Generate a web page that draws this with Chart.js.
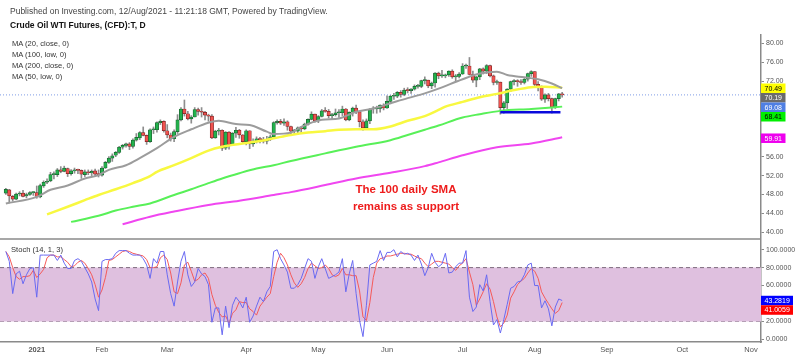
<!DOCTYPE html>
<html><head><meta charset="utf-8">
<script src="https://cdn.jsdelivr.net/npm/chart.js@4.4.0/dist/chart.umd.min.js"></script>
<style>
html,body{margin:0;padding:0;background:#fff;width:800px;height:357px;overflow:hidden;font-family:"Liberation Sans",Arial,sans-serif;}
#wrap{position:relative;width:800px;height:357px;}
canvas{position:absolute;left:0;}
.t{position:absolute;white-space:nowrap;color:#333;line-height:11px;}
.note{position:absolute;left:306px;top:180.5px;width:200px;text-align:center;color:#ee1c1c;font-weight:bold;font-size:11.5px;line-height:17px;}
</style></head><body>
<div id="wrap">
<canvas id="main" width="800" height="240" style="top:0;width:800px;height:240px"></canvas>
<canvas id="stoch" width="800" height="117" style="top:240px;width:800px;height:117px"></canvas>
<div class="t" style="left:10px;top:6px;font-size:8.5px;color:#444">Published on Investing.com, 12/Aug/2021 - 11:21:18 GMT, Powered by TradingView.</div>
<div class="t" style="left:10px;top:20px;font-size:8.5px;font-weight:bold;color:#111">Crude Oil WTI Futures, (CFD):T, D</div>
<div class="t" style="left:12px;top:38px;font-size:7.6px">MA (20, close, 0)</div>
<div class="t" style="left:12px;top:49px;font-size:7.6px">MA (100, low, 0)</div>
<div class="t" style="left:12px;top:60px;font-size:7.6px">MA (200, close, 0)</div>
<div class="t" style="left:12px;top:71px;font-size:7.6px">MA (50, low, 0)</div>
<div class="t" style="left:11px;top:244px;font-size:7.6px">Stoch (14, 1, 3)</div>
<div class="note">The 100 daily SMA<br>remains as support</div>
</div>
<script>
// ---- data (trading-day index: 0 = first session of 2021) ----
const firstDay = -9;
const open = [48.3,49.0,47.6,47.0,48.1,48.3,47.7,48.0,48.4,
48.4,47.5,49.8,50.6,50.9,52.2,52.2,53.2,52.9,53.5,
52.4,53.0,53.3,53.1,52.2,52.8,52.6,53.0,52.3,
52.1,53.6,54.8,55.7,56.3,56.9,58.0,58.4,58.7,58.2,
59.5,60.0,61.1,60.5,59.2,61.7,61.7,63.2,63.5,
61.5,60.6,59.8,61.3,63.8,66.1,65.1,64.0,64.4,66.0,65.6,65.4,64.8,
64.6,60.0,61.4,61.6,57.8,61.2,58.6,61.0,61.6,60.6,
59.2,61.5,58.7,59.3,59.8,59.6,59.3,59.7,60.2,63.2,
63.5,63.1,63.4,62.4,61.4,61.4,62.1,61.9,62.9,63.9,65.0,
63.6,64.5,65.7,65.6,64.7,64.9,65.3,65.3,66.1,63.8,
65.4,66.3,65.5,63.4,62.1,63.6,66.1,66.1,66.2,66.9,
66.3,67.7,68.8,68.8,69.6,69.2,70.1,70.0,70.3,70.9,70.9,72.1,
72.2,71.0,71.6,73.7,73.1,73.1,73.3,74.1,72.9,73.0,
73.5,75.2,75.2,73.4,72.2,72.9,74.6,74.1,75.3,73.1,71.7,
71.8,66.4,67.4,70.3,71.9,72.1,71.9,71.7,72.4,73.6,
74.0,71.3,70.6,68.2,69.1,68.3,66.5,68.3,69.3];
const high = [49.3,49.1,47.8,48.3,48.6,48.9,48.3,48.6,48.6,
49.8,50.2,50.9,51.3,52.7,52.8,53.5,53.9,54.0,53.6,
53.3,53.6,53.4,53.2,53.2,53.2,53.2,53.4,53.2,
53.9,55.0,56.0,56.6,57.1,58.2,58.6,58.9,59.0,59.8,
60.9,61.3,62.3,60.6,61.9,62.3,63.4,63.8,63.6,
62.8,61.0,61.7,64.9,66.4,68.0,65.6,64.7,66.4,66.3,66.4,65.6,65.0,
64.9,61.6,62.0,61.7,61.3,61.3,61.1,62.2,61.8,60.7,
61.7,61.5,59.8,60.2,60.1,60.1,60.3,60.6,63.4,63.8,
63.9,64.0,63.6,62.5,61.8,62.3,62.3,63.1,64.0,65.5,65.0,
64.7,66.0,66.4,66.0,65.2,66.1,66.0,66.7,66.2,65.5,
66.5,66.9,65.6,63.8,64.0,66.2,66.6,66.7,67.0,67.2,
68.9,69.0,69.4,69.8,70.0,70.5,70.6,70.4,71.2,71.3,72.2,72.9,
72.2,71.8,73.8,73.9,74.3,73.5,74.2,74.4,73.4,73.8,
75.7,75.6,77.0,74.1,73.0,74.7,74.8,75.5,75.4,73.3,72.2,
71.8,67.7,70.4,72.0,72.3,72.3,72.3,72.8,73.7,74.2,
74.0,71.9,71.0,69.3,69.4,68.4,68.4,69.4,69.6];
const low = [48.0,46.2,46.6,46.9,47.7,47.5,47.3,47.8,47.8,
47.2,47.3,49.5,50.3,50.7,51.3,51.8,52.6,52.8,51.8,
52.1,52.5,52.4,51.4,51.8,52.2,52.0,51.8,51.7,
51.9,53.5,54.6,55.0,56.0,56.7,57.6,58.0,57.5,57.8,
59.3,59.6,60.4,58.6,59.0,60.9,61.2,62.8,61.2,
60.0,59.3,59.2,60.9,63.6,64.6,63.8,63.1,64.4,64.8,64.4,63.8,63.5,
59.8,59.9,60.6,57.3,57.5,57.6,58.5,60.1,59.9,58.8,
58.5,57.7,58.2,58.9,58.9,58.9,58.7,59.4,60.1,62.9,
62.8,62.6,61.6,60.8,60.8,60.7,61.1,61.7,62.7,63.8,63.3,
63.2,64.4,65.4,64.2,64.0,64.6,64.3,64.7,63.6,63.6,
64.6,65.1,62.3,61.6,61.8,63.0,65.2,65.2,65.4,65.9,
66.2,67.2,68.1,68.5,68.6,68.9,69.5,69.4,70.1,70.5,70.6,71.4,
70.6,70.4,70.7,72.5,72.8,72.7,73.0,72.6,71.9,72.7,
73.4,74.7,73.3,71.7,70.8,72.3,73.5,73.6,72.9,71.2,71.3,
65.0,65.2,66.2,69.8,71.2,70.9,71.3,71.4,72.0,73.0,
71.0,69.9,67.9,67.5,67.8,65.2,66.2,67.8,68.6];
const close = [49.1,47.7,47.0,48.1,48.2,47.6,48.0,48.4,48.5,
47.6,49.9,50.6,50.8,52.2,52.3,53.2,52.9,53.6,52.4,
53.0,53.2,53.1,52.3,52.8,52.6,52.9,52.3,52.2,
53.6,54.8,55.7,56.2,56.9,58.0,58.4,58.7,58.2,59.5,
60.1,61.1,60.5,59.2,61.7,61.7,63.2,63.5,61.5,
60.6,59.8,61.3,63.8,66.1,65.1,64.0,64.4,66.0,65.6,65.4,64.8,64.6,
60.0,61.4,61.6,57.8,61.2,58.6,61.0,61.6,60.6,59.2,
61.5,58.7,59.3,59.8,59.6,59.3,59.7,60.2,63.2,63.5,
63.1,63.4,62.4,61.4,61.4,62.1,61.9,62.9,63.9,65.0,63.6,
64.5,65.7,65.6,64.7,64.9,65.3,65.3,66.1,63.8,65.4,
66.3,65.5,63.4,62.1,63.6,66.1,66.1,66.2,66.9,66.3,
67.7,68.8,68.8,69.6,69.2,70.1,70.0,70.3,70.9,70.9,72.1,72.2,
71.0,71.6,73.7,73.1,73.1,73.3,74.1,72.9,73.0,73.5,
75.2,75.2,73.4,72.2,72.9,74.6,74.1,75.3,73.1,71.7,71.8,
66.4,67.4,70.3,71.9,72.1,71.9,71.7,72.4,73.6,74.0,
71.3,70.6,68.2,69.1,68.3,66.5,68.3,69.3,69.1];

// moving averages (day index / value)
const ma20Days  = [-9,0,4,9,14,18,21,26,30,35,40,45,50,53,58,62,67,69,74,77,83,88,93,98,103,108,113,117,124,129,134,137,142,146,150,153];
const ma20Vals  = [46.1,47.5,49.0,49.9,51.4,52.1,53.2,54.2,55.7,57.8,60.2,61.8,63.2,63.6,62.9,62.7,61.3,60.8,61.1,62.3,63.8,64.1,65.5,66.2,67.3,68.4,69.4,70.4,72.4,73.6,74.0,73.3,72.8,72.4,71.5,70.5];
const ma50Days  = [3,9,14,18,23,28,33,35,40,45,50,54,59,64,69,74,79,84,88,93,98,103,108,113,117,119,124,129,134,139,144,148,153];
const ma50Vals  = [43.8,45.4,46.8,47.9,49.1,50.4,51.9,52.8,54.2,55.7,57.3,58.1,58.7,59.2,59.9,60.6,61.1,61.4,61.7,61.8,61.8,62.4,63.6,64.6,65.9,66.6,67.6,68.6,69.3,70.1,70.7,70.8,70.6];
const ma100Days = [10,18,23,28,33,40,45,50,54,59,64,69,74,84,93,103,108,113,117,124,129,135,144,153];
const ma100Vals = [42.2,43.5,44.6,45.4,46.1,47.9,49.1,50.4,51.4,52.5,53.5,54.2,55.1,56.7,58.1,59.5,60.6,61.7,62.6,64.3,65.0,65.7,66.1,66.6];
const ma200Days = [25,33,40,50,59,69,74,84,93,103,113,117,124,134,144,153];
const ma200Vals = [41.7,43.3,44.4,45.8,46.7,47.9,48.5,50.0,51.4,52.6,54.0,54.8,56.3,58.0,58.8,60.1];

const lastPrice = 69.08;
const supportLevel = 65.4;
const supportDays = [135, 152.5];

// stochastic (14,1,3): %K and %D, one value per session
const stochK = [98,87,51,73,76,62,72,79,80,
47,94,94,94,94,94,88,94,85,79,
79,88,90,87,80,73,64,45,32,
87,89,89,90,96,99,99,99,96,94,
94,94,90,83,68,90,85,98,98,
72,51,37,64,87,98,72,59,64,79,73,70,61,
19,35,35,5,37,13,38,47,42,35,
47,19,26,37,47,42,53,59,98,100,
90,83,75,57,57,61,68,79,90,87,68,
81,90,79,68,70,72,75,90,53,73,
88,51,21,3,38,83,85,87,99,88,
97,97,100,92,98,95,96,94,88,94,84,71,
80,96,86,81,84,96,74,75,81,85,
85,99,47,31,36,61,54,72,42,16,22,
7,22,39,57,59,64,65,72,83,85,
60,60,35,43,34,15,36,45,43.2819];
const stochD = [98,92,80,70,67,70,70,71,77,
69,73,78,91,94,94,92,92,89,86,
81,82,86,88,85,79,72,61,47,
55,69,88,89,92,95,98,99,98,96,
95,94,93,89,80,80,81,91,94,
89,74,53,51,63,83,86,76,65,67,72,74,68,
50,38,30,25,26,18,29,33,42,41,
41,34,31,27,37,42,47,51,70,86,
96,91,83,72,63,58,62,69,79,85,82,
79,80,83,79,72,70,72,79,72,72,
71,71,54,25,21,41,69,85,90,91,
93,93,94,95,96,96,95,95,93,91,90,85,
81,84,87,87,86,85,84,80,77,82,
85,90,75,61,38,45,53,62,56,42,25,
14,18,27,46,53,61,65,68,74,79,
76,68,53,46,40,34,29,32,41.0059];

const monthDays   = [0,19,38,61,82,102,124,145,166,188,208];
const monthLabels = ['2021','Feb','Mar','Apr','May','Jun','Jul','Aug','Sep','Oct','Nov'];

const priceTicks = [40,44,48,52,56,60,64,68,72,76,80];
const stochTicks = [0,20,40,60,80,100];
const mainTags  = [{v:70.49,bg:'#ffff00',fg:'#000'},{v:70.19,bg:'#6b6b6b',fg:'#fff'},{v:69.08,bg:'#4f7fe3',fg:'#fff'},{v:68.41,bg:'#00ee00',fg:'#000'},{v:59.91,bg:'#ee00ee',fg:'#fff'}];
const stochTags = [{v:43.2819,bg:'#0000ff',fg:'#fff'},{v:41.0059,bg:'#ff0000',fg:'#fff'}];

// ---- view ----
const X_MIN = -10.7, X_MAX = 210.9;
const days = close.map((_, i) => firstDay + i);
const AXIS = '#8a8a8a';
const FONT = '"Liberation Sans", Arial, sans-serif';

function tagPlugin(tags, dec, w) {
  return { id: 'tags', afterDraw(chart) {
    const ys = chart.scales.y, ctx = chart.ctx, x0 = chart.chartArea.right, h = 9.5;
    let prev = -1e9;
    ctx.save();
    ctx.font = '7px ' + FONT; ctx.textBaseline = 'middle';
    tags.forEach(t => {
      let y = Math.max(ys.getPixelForValue(t.v), prev + h); prev = y;
      ctx.fillStyle = t.bg; ctx.fillRect(x0, y - h/2, w, h);
      ctx.fillStyle = t.fg; ctx.fillText(t.v.toFixed(dec), x0 + 3.5, y + 0.5);
    });
    ctx.restore();
  }};
}
const sepPlugin = { id: 'sep', afterDraw(chart) {
  const ctx = chart.ctx, a = chart.chartArea;
  ctx.save(); ctx.strokeStyle = AXIS; ctx.lineWidth = 1.5;
  ctx.beginPath(); ctx.moveTo(0, a.bottom); ctx.lineTo(a.right, a.bottom); ctx.stroke(); ctx.restore();
}};

function yAxis(min, max, ticks, dec) {
  return {
    type: 'linear', position: 'right', min, max,
    afterBuildTicks: s => { s.ticks = ticks.map(v => ({ value: v })); },
    afterFit: s => { s.width = 39; s.paddingTop = 0; s.paddingBottom = 0; },
    grid: { drawOnChartArea: false, drawTicks: true, tickLength: 3, color: AXIS },
    border: { display: true, color: AXIS, width: 1.5 },
    ticks: { callback: v => Number(v).toFixed(dec), font: { size: 7, family: FONT }, color: '#555', padding: 2 }
  };
}

const up = '#22b24c', upB = '#1b5e2e', dn = '#f0524f', dnB = '#7d2323';
const maLine = (d, v, color, w, order) => ({
  type: 'line', data: d.map((x, i) => ({ x, y: v[i] })), borderColor: color, borderWidth: w,
  pointRadius: 0, cubicInterpolationMode: 'monotone', order
});

new Chart(document.getElementById('main'), {
  type: 'bar',
  data: { datasets: [
    { type: 'bar', data: days.map((d, i) => ({ x: d, y: [low[i], high[i]] })), backgroundColor: '#8d8d8d',
      barThickness: 1, grouped: false, order: 20 },
    { type: 'bar', data: days.map((d, i) => ({ x: d, y: [open[i], close[i]] })),
      backgroundColor: days.map((d, i) => close[i] >= open[i] ? up : dn),
      borderColor: days.map((d, i) => close[i] >= open[i] ? upB : dnB),
      borderWidth: 0.7, borderSkipped: false, barThickness: 3.4, minBarLength: 1, grouped: false, order: 19 },
    { type: 'line', data: [{ x: X_MIN, y: lastPrice }, { x: X_MAX, y: lastPrice }], borderColor: '#7f9ce6',
      borderWidth: 1, borderDash: [1, 2], pointRadius: 0, order: 30 },
    maLine(ma200Days, ma200Vals, '#f046f0', 2, 5),
    maLine(ma100Days, ma100Vals, '#58f058', 2, 4),
    maLine(ma50Days, ma50Vals, '#f8f840', 2.5, 3),
    maLine(ma20Days, ma20Vals, '#9c9c9c', 2, 2),
    { type: 'line', data: supportDays.map(x => ({ x, y: supportLevel })), borderColor: '#0a0adc', borderWidth: 2.5,
      pointRadius: 0, order: 1 }
  ]},
  options: {
    responsive: false, animation: false, events: [],
    layout: { padding: { top: 35, bottom: 1, left: 0, right: 0 } },
    plugins: { legend: { display: false }, tooltip: { enabled: false } },
    scales: {
      x: { type: 'linear', min: X_MIN, max: X_MAX, offset: false, display: false },
      y: yAxis(38.58, 81.76, priceTicks, 2)
    }
  },
  plugins: [sepPlugin, tagPlugin(mainTags, 2, 24.5)]
});

new Chart(document.getElementById('stoch'), {
  type: 'line',
  data: { datasets: [
    { data: [{ x: X_MIN, y: 20 }, { x: X_MAX, y: 20 }], borderColor: '#7d6b7d', borderWidth: 1, borderDash: [4, 3],
      pointRadius: 0, fill: false, order: 5 },
    { data: [{ x: X_MIN, y: 80 }, { x: X_MAX, y: 80 }], borderColor: '#7d6b7d', borderWidth: 1, borderDash: [4, 3],
      pointRadius: 0, fill: '-1', backgroundColor: '#dfc0df', order: 4 },
    { data: days.map((d, i) => ({ x: d, y: stochD[i] })), borderColor: '#f55a5a', borderWidth: 1, pointRadius: 0, order: 2 },
    { data: days.map((d, i) => ({ x: d, y: stochK[i] })), borderColor: '#6a6af2', borderWidth: 1, pointRadius: 0, order: 1 }
  ]},
  options: {
    responsive: false, animation: false, events: [],
    layout: { padding: { top: 0, bottom: 0, left: 0, right: 0 } },
    plugins: { legend: { display: false }, tooltip: { enabled: false } },
    scales: {
      x: { type: 'linear', min: X_MIN, max: X_MAX, offset: false,
        afterBuildTicks: s => { s.ticks = monthDays.map(v => ({ value: v })); },
        afterFit: s => { s.height = 15; s.paddingLeft = 0; s.paddingRight = 0; },
        grid: { display: false, drawTicks: false },
        border: { display: true, color: AXIS, width: 1.5 },
        ticks: { autoSkip: false, maxRotation: 0, padding: 3, color: '#555',
          callback: (v, i) => monthLabels[i],
          font: ctx => ({ size: 7.5, family: FONT, weight: ctx.index === 0 ? 'bold' : 'normal' }) } },
      y: yAxis(-3.01, 110.83, stochTicks, 4)
    }
  },
  plugins: [tagPlugin(stochTags, 4, 32)]
});
</script>
</body></html>
